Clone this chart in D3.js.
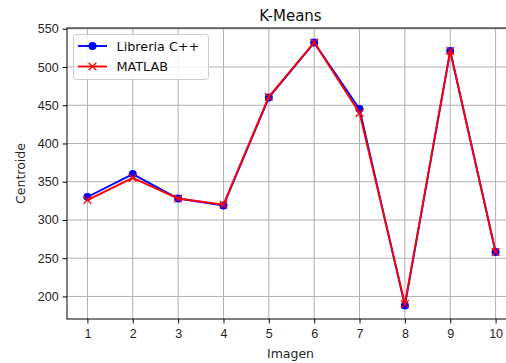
<!DOCTYPE html>
<html>
<head>
<meta charset="utf-8">
<title>K-Means</title>
<script src="https://cdn.jsdelivr.net/npm/d3@7"></script>
<style>
body { margin: 0; background: #fff; }
svg { display: block; font-family: "DejaVu Sans", sans-serif; }
.grid line { stroke: #b0b0b0; stroke-width: 1; }
.tick text { fill: #262626; font-size: 12.5px; }
.tick line { stroke: #000; stroke-width: 1; }
</style>
</head>
<body>
<svg width="506" height="363"></svg>
<script>
// datos
var imagenes = [1, 2, 3, 4, 5, 6, 7, 8, 9, 10];
var libreriaCpp = [330, 360, 328, 319, 460, 532, 445, 188, 521, 258];
var matlab = [326, 355, 328, 320, 461, 532, 440, 190, 521, 258];
var yTicks = [200, 250, 300, 350, 400, 450, 500, 550];

var svg = d3.select("svg"),
    margin = {top: 28, left: 67, bottom: 319, right: 516};

var x = d3.scaleLinear().domain([0.55, 10.45]).range([margin.left, margin.right]),
    y = d3.scaleLinear().domain([170.5, 551]).range([margin.bottom, margin.top]);

// grid
var grid = svg.append("g").attr("class", "grid");
grid.selectAll(".gx").data(imagenes).enter().append("line")
    .attr("x1", d => x(d)).attr("x2", d => x(d))
    .attr("y1", margin.top).attr("y2", margin.bottom);
grid.selectAll(".gy").data(yTicks).enter().append("line")
    .attr("x1", margin.left).attr("x2", margin.right)
    .attr("y1", d => y(d)).attr("y2", d => y(d));

// ejes
var ax = svg.append("g")
    .attr("transform", "translate(0," + margin.bottom + ")")
    .call(d3.axisBottom(x).tickValues(imagenes).tickFormat(d3.format("d")).tickSize(4.4).tickPadding(4));
ax.select(".domain").remove();
ax.selectAll("text").attr("dy", "0.85em");

var ay = svg.append("g")
    .attr("transform", "translate(" + margin.left + ",0)")
    .call(d3.axisLeft(y).tickValues(yTicks).tickSize(4.4).tickPadding(4));
ay.select(".domain").remove();

svg.append("rect")
    .attr("x", margin.left).attr("y", margin.top)
    .attr("width", margin.right - margin.left).attr("height", margin.bottom - margin.top)
    .attr("fill", "none").attr("stroke", "#000").attr("stroke-width", 1);

// series
var line = d3.line().x((d, i) => x(imagenes[i])).y(d => y(d));
var xm = d3.symbol().type(d3.symbolTimes).size(40);

svg.append("path").datum(libreriaCpp)
    .attr("d", line).attr("fill", "none").attr("stroke", "#0000ff").attr("stroke-width", 1.9);
svg.selectAll(".pc").data(libreriaCpp).enter().append("circle")
    .attr("cx", (d, i) => x(imagenes[i])).attr("cy", d => y(d))
    .attr("r", 4).attr("fill", "#0000ff");

svg.append("path").datum(matlab)
    .attr("d", line).attr("fill", "none").attr("stroke", "#ff0000").attr("stroke-width", 1.9);
svg.selectAll(".pm").data(matlab).enter().append("path")
    .attr("transform", (d, i) => "translate(" + x(imagenes[i]) + "," + y(d) + ")")
    .attr("d", xm).attr("fill", "none").attr("stroke", "#ff0000").attr("stroke-width", 1.3);

// titulos
svg.append("text").attr("x", (margin.left + margin.right) / 2 - 1).attr("y", 20.5)
    .attr("text-anchor", "middle").attr("font-size", 15).attr("fill", "#111").text("K-Means");
svg.append("text").attr("x", (margin.left + margin.right) / 2 - 1).attr("y", 358)
    .attr("text-anchor", "middle").attr("font-size", 12.5).attr("fill", "#262626").text("Imagen");
svg.append("text").attr("transform", "translate(24.5," + (margin.top + margin.bottom) / 2 + ") rotate(-90)")
    .attr("text-anchor", "middle").attr("font-size", 12.5).attr("fill", "#262626").text("Centroide");

// leyenda
var leg = svg.append("g");
leg.append("rect").attr("x", 73.5).attr("y", 34.5).attr("width", 135).attr("height", 45).attr("rx", 3)
    .attr("fill", "#fff").attr("fill-opacity", 0.8).attr("stroke", "#cccccc").attr("stroke-width", 1);
var items = [
  {label: "Libreria C++", color: "#0000ff", mark: "o"},
  {label: "MATLAB", color: "#ff0000", mark: "x"}
];
items.forEach(function(it, i) {
  var yy = 46 + i * 20.5;
  leg.append("line").attr("x1", 78).attr("x2", 107).attr("y1", yy).attr("y2", yy)
      .attr("stroke", it.color).attr("stroke-width", 1.9);
  if (it.mark === "o") {
    leg.append("circle").attr("cx", 92.5).attr("cy", yy).attr("r", 4).attr("fill", it.color);
  } else {
    leg.append("path").attr("transform", "translate(92.5," + yy + ")").attr("d", xm)
        .attr("fill", "none").attr("stroke", it.color).attr("stroke-width", 1.3);
  }
  leg.append("text").attr("x", 116.5).attr("y", yy).attr("dy", "0.36em")
      .attr("font-size", 12.8).attr("fill", "#111").text(it.label);
});
</script>
</body>
</html>
